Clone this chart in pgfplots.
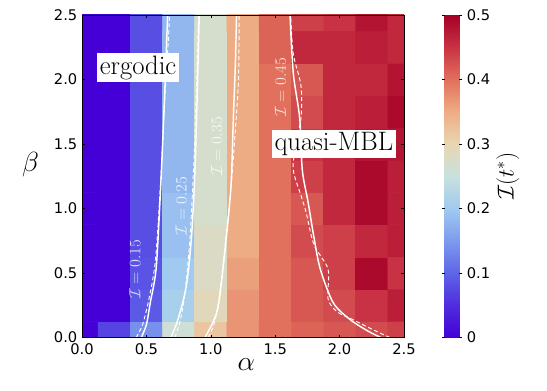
\documentclass[border=0pt]{standalone}
\usepackage{fontspec}
\setsansfont{DejaVu Sans}
\usepackage{pgfplots}
\usepackage{pgfplotstable}
\pgfplotsset{compat=1.18}
\pgfplotstableread{
x y c
0.00 0.00 0.00
0.25 0.00 0.07
0.50 0.00 0.14
0.75 0.00 0.26
1.00 0.00 0.32
1.25 0.00 0.37
1.50 0.00 0.40
1.75 0.00 0.41
2.00 0.00 0.42
2.25 0.00 0.43
2.50 0.00 0.44
0.00 0.25 0.00
0.25 0.25 0.00
0.50 0.25 0.09
0.75 0.25 0.21
1.00 0.25 0.29
1.25 0.25 0.37
1.50 0.25 0.40
1.75 0.25 0.42
2.00 0.25 0.43
2.25 0.25 0.45
2.50 0.25 0.47
0.00 0.50 0.00
0.25 0.50 0.00
0.50 0.50 0.085
0.75 0.50 0.20
1.00 0.50 0.28
1.25 0.50 0.36
1.50 0.50 0.40
1.75 0.50 0.42
2.00 0.50 0.44
2.25 0.50 0.49
2.50 0.50 0.45
0.00 0.75 0.00
0.25 0.75 0.00
0.50 0.75 0.08
0.75 0.75 0.19
1.00 0.75 0.28
1.25 0.75 0.35
1.50 0.75 0.40
1.75 0.75 0.43
2.00 0.75 0.44
2.25 0.75 0.46
2.50 0.75 0.47
0.00 1.00 0.00
0.25 1.00 0.00
0.50 1.00 0.08
0.75 1.00 0.19
1.00 1.00 0.27
1.25 1.00 0.35
1.50 1.00 0.40
1.75 1.00 0.42
2.00 1.00 0.46
2.25 1.00 0.49
2.50 1.00 0.47
0.00 1.25 0.00
0.25 1.25 0.00
0.50 1.25 0.08
0.75 1.25 0.18
1.00 1.25 0.27
1.25 1.25 0.35
1.50 1.25 0.40
1.75 1.25 0.44
2.00 1.25 0.46
2.25 1.25 0.49
2.50 1.25 0.47
0.00 1.50 0.00
0.25 1.50 0.00
0.50 1.50 0.08
0.75 1.50 0.18
1.00 1.50 0.27
1.25 1.50 0.35
1.50 1.50 0.40
1.75 1.50 0.45
2.00 1.50 0.46
2.25 1.50 0.48
2.50 1.50 0.48
0.00 1.75 0.00
0.25 1.75 0.00
0.50 1.75 0.08
0.75 1.75 0.18
1.00 1.75 0.27
1.25 1.75 0.35
1.50 1.75 0.40
1.75 1.75 0.43
2.00 1.75 0.46
2.25 1.75 0.47
2.50 1.75 0.49
0.00 2.00 0.00
0.25 2.00 0.00
0.50 2.00 0.08
0.75 2.00 0.18
1.00 2.00 0.27
1.25 2.00 0.35
1.50 2.00 0.40
1.75 2.00 0.42
2.00 2.00 0.46
2.25 2.00 0.46
2.50 2.00 0.48
0.00 2.25 0.00
0.25 2.25 0.00
0.50 2.25 0.08
0.75 2.25 0.18
1.00 2.25 0.27
1.25 2.25 0.35
1.50 2.25 0.41
1.75 2.25 0.46
2.00 2.25 0.46
2.25 2.25 0.47
2.50 2.25 0.46
0.00 2.50 0.00
0.25 2.50 0.00
0.50 2.50 0.08
0.75 2.50 0.18
1.00 2.50 0.27
1.25 2.50 0.35
1.50 2.50 0.41
1.75 2.50 0.44
2.00 2.50 0.45
2.25 2.50 0.48
2.50 2.50 0.46
}\heat
\pgfplotsset{colormap={mymap}{
 rgb255(0)=(68,0,215) rgb255(5)=(78,45,222) rgb255(10)=(95,100,232)
 rgb255(15)=(125,155,238) rgb255(20)=(160,202,240) rgb255(25)=(200,225,222)
 rgb255(30)=(232,214,178) rgb255(35)=(238,172,132) rgb255(40)=(225,112,92)
 rgb255(45)=(200,50,68) rgb255(50)=(165,0,38)}}
\begin{document}
\begin{tikzpicture}
\begin{axis}[
  width=241.5pt, height=242pt, scale only axis,
  xmin=0, xmax=2.5, ymin=0, ymax=2.5,
  xtick={0,0.5,...,2.5}, ytick={0,0.5,...,2.5},
  tick align=inside, major tick length=2pt,
  tick style={black, thin},
  xticklabel style={/pgf/number format/fixed,/pgf/number format/precision=1,/pgf/number format/fixed zerofill, yshift=-1pt},
  yticklabel style={/pgf/number format/fixed,/pgf/number format/precision=1,/pgf/number format/fixed zerofill},
  /pgf/number format/assume math mode=true,
  ticklabel style={font=\sffamily\fontsize{11}{13}\selectfont},
  xlabel={$\alpha$}, ylabel={$\beta$},
  xlabel style={font=\fontsize{22}{24}\selectfont, at={(axis description cs:0.51,-0.085)}, anchor=center},
  ylabel style={font=\fontsize{22}{24}\selectfont, at={(axis description cs:-0.16,0.535)}, anchor=center, rotate=-90},
  colormap name=mymap,
  point meta min=0, point meta max=0.5,
  colorbar,
  colorbar style={
    width=11pt,
    at={(parent axis.north east)}, anchor=north west, xshift=22pt,
    ytick={0,0.1,...,0.5},
    yticklabel style={/pgf/number format/fixed,/pgf/number format/precision=1},
    /pgf/number format/assume math mode=true,
    ticklabel style={font=\sffamily\fontsize{11}{13}\selectfont},
    tick align=outside, major tick length=2pt,
    axis line style={draw=none},
    ylabel={$\mathcal{I}(t^*)$},
    ylabel style={font=\fontsize{17}{19}\selectfont, at={(axis description cs:4.3,0.5)}, anchor=center, rotate=0},
  },
  axis on top,
]
\addplot[matrix plot*, shader=flat corner, mesh/cols=11, point meta=explicit] table[x=x, y=y, meta=c] {\heat};
% fitted contours (solid)
\addplot[white, line width=1.1pt, smooth, tension=0.5] coordinates {(0.46,0) (0.50,0.1) (0.53,0.27) (0.575,0.53) (0.605,1.05) (0.63,1.6) (0.65,2.1) (0.665,2.5)};
\addplot[white, line width=1.1pt, smooth, tension=0.5] coordinates {(0.69,0) (0.745,0.14) (0.81,0.4) (0.85,0.78) (0.877,1.3) (0.895,1.9) (0.91,2.5)};
\addplot[white, line width=1.1pt, smooth, tension=0.5] coordinates {(0.955,0) (1.045,0.19) (1.085,0.45) (1.14,0.97) (1.16,1.24) (1.175,1.7) (1.19,2.1) (1.20,2.5)};
\addplot[white, line width=1.1pt, smooth, tension=0.5] coordinates {(2.32,0) (2.22,0.05) (2.08,0.14) (1.95,0.27) (1.85,0.53) (1.80,0.78) (1.755,1.05) (1.71,1.3) (1.69,1.7) (1.64,2.05) (1.615,2.5)};
% data contours (dashed)
\addplot[white, line width=0.7pt, dash pattern=on 3pt off 2pt, smooth, tension=0.5] coordinates {(0.42,0) (0.47,0.1) (0.52,0.3) (0.57,0.6) (0.61,1.2) (0.64,1.8) (0.67,2.3) (0.68,2.5)};
\addplot[white, line width=0.7pt, dash pattern=on 3pt off 2pt, smooth, tension=0.5] coordinates {(0.72,0) (0.76,0.12) (0.80,0.35) (0.84,0.8) (0.87,1.4) (0.89,2.0) (0.905,2.5)};
\addplot[white, line width=0.7pt, dash pattern=on 3pt off 2pt, smooth, tension=0.5] coordinates {(0.98,0) (1.03,0.12) (1.07,0.35) (1.12,0.8) (1.16,1.2) (1.19,1.6) (1.215,2.0) (1.22,2.5)};
\addplot[white, line width=0.7pt, dash pattern=on 3pt off 2pt, smooth, tension=0.5] coordinates {(2.39,0) (2.26,0.06) (2.10,0.14) (1.98,0.2) (1.91,0.3) (1.91,0.53) (1.80,0.72) (1.74,0.97) (1.70,1.1) (1.64,1.3) (1.66,1.5) (1.70,1.7) (1.70,1.95) (1.64,2.2) (1.62,2.5)};
% contour labels
\node[rotate=90, text=white, text opacity=0.8, font=\fontsize{12}{14}\selectfont] at (axis cs:0.41,0.53) {$\mathcal{I}=0.15$};
\node[rotate=90, text=white, text opacity=0.8, font=\fontsize{12}{14}\selectfont] at (axis cs:0.77,1.02) {$\mathcal{I}=0.25$};
\node[rotate=90, text=white, text opacity=0.8, font=\fontsize{12}{14}\selectfont] at (axis cs:1.045,1.48) {$\mathcal{I}=0.35$};
\node[rotate=90, text=white, text opacity=0.8, font=\fontsize{12}{14}\selectfont] at (axis cs:1.54,1.94) {$\mathcal{I}=0.45$};
\node[fill=white, inner sep=2pt, font=\fontsize{20}{22}\selectfont] at (axis cs:0.435,2.09) {ergodic};
\node[fill=white, inner sep=2pt, font=\fontsize{20}{22}\selectfont] at (axis cs:1.955,1.50) {quasi-MBL};
\coordinate (bbSW) at (axis description cs:-0.2547,-0.164);
\coordinate (bbNE) at (axis description cs:1.444,1.046);
\end{axis}
\pgfresetboundingbox
\path[use as bounding box] (bbSW) rectangle (bbNE);
\end{tikzpicture}
\end{document}
